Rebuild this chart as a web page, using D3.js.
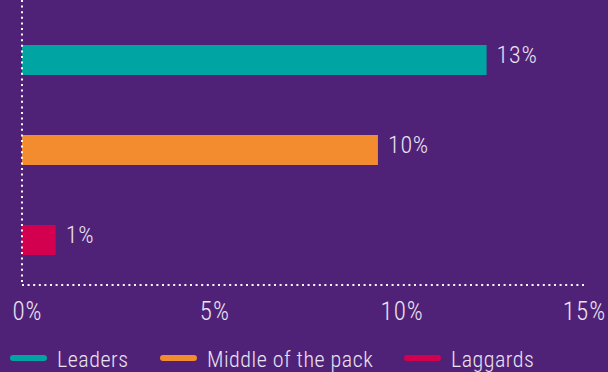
<!DOCTYPE html>
<html>
<head>
<meta charset="utf-8">
<script src="https://cdn.jsdelivr.net/npm/d3@7"></script>
<style>
  body { margin: 0; background: #4f2277; }
  svg { display: block; }
  text { font-family: "Liberation Sans Narrow", "Roboto Condensed", "Arial Narrow", sans-serif; fill: #ebe3f3; font-weight: 300; }
</style>
</head>
<body>
<svg width="608" height="372"></svg>
<script>
var categories = ["Leaders", "Middle of the pack", "Laggards"];
var values = [12.4, 9.5, 0.9];
var valueLabels = ["13%", "10%", "1%"];
var colors = ["#00a5a3", "#f28c2f", "#d3004f"];
var xTicks = [0, 5, 10, 15];

var svg = d3.select("svg"),
    left = 22, right = 584, top = 12, bottom = 284;

svg.append("rect").attr("width", 608).attr("height", 372).attr("fill", "#4f2277");

var x = d3.scaleLinear().domain([0, 15]).range([left, right]);
var y = d3.scaleBand().domain(categories).range([15, 285])
    .paddingInner(2 / 3).paddingOuter(1 / 3);

var g = svg.append("g");

g.selectAll("rect.bar")
    .data(categories)
    .enter().append("rect")
    .attr("class", "bar")
    .attr("x", x(0))
    .attr("y", function (d) { return y(d); })
    .attr("width", function (d, i) { return x(values[i]) - x(0); })
    .attr("height", y.bandwidth())
    .attr("fill", function (d, i) { return colors[i]; });

g.selectAll("text.val")
    .data(categories)
    .enter().append("text")
    .attr("class", "val")
    .attr("x", function (d, i) { return x(values[i]) + 10; })
    .attr("y", function (d) { return y(d) + y.bandwidth() / 2 + 3; })
    .attr("font-size", 24)
    .attr("letter-spacing", 0.8)
    .text(function (d, i) { return valueLabels[i]; });

// dotted axes
g.append("line")
    .attr("x1", left).attr("x2", left)
    .attr("y1", top).attr("y2", bottom)
    .attr("stroke", "#fff").attr("stroke-width", 2)
    .attr("stroke-dasharray", "2,3.6");
g.append("line")
    .attr("x1", left).attr("x2", right)
    .attr("y1", bottom + 1).attr("y2", bottom + 1)
    .attr("stroke", "#fff").attr("stroke-width", 2)
    .attr("stroke-dasharray", "2,3.6");

var xAxis = g.append("g")
    .attr("transform", "translate(5," + bottom + ")")
    .call(d3.axisBottom(x).tickValues(xTicks).tickSize(0).tickPadding(17)
        .tickFormat(function (d) { return d + "%"; }));
xAxis.select(".domain").remove();
xAxis.selectAll("text")
    .attr("font-size", 25)
    .attr("letter-spacing", 1)
    .attr("font-family", null)
    .attr("fill", "#ebe3f3")
    .attr("dy", "0.75em")
    .attr("dx", function (d) { return d === 15 ? -5 : 0; });

// legend
var legendX = [10, 160, 404];
var lg = svg.append("g").selectAll("g")
    .data(categories)
    .enter().append("g")
    .attr("transform", function (d, i) { return "translate(" + legendX[i] + ",358)"; });
lg.append("line")
    .attr("x1", 3).attr("x2", 34)
    .attr("stroke", function (d, i) { return colors[i]; })
    .attr("stroke-width", 6)
    .attr("stroke-linecap", "round");
lg.append("text")
    .attr("x", 47)
    .attr("y", 9)
    .attr("font-size", 22)
    .attr("letter-spacing", 0.5)
    .text(function (d) { return d; });
</script>
</body>
</html>
